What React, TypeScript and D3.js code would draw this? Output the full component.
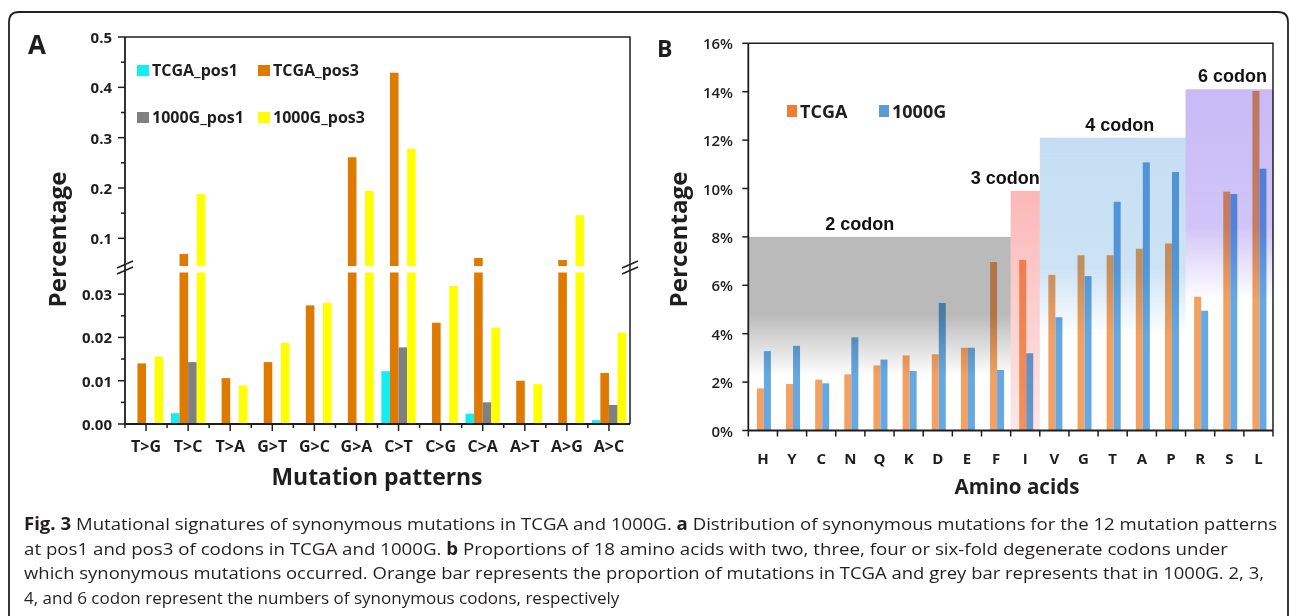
import * as d3 from 'd3';
import React from 'react';

// ---- panel A: synonymous mutation patterns ----
const patterns = ['T>G', 'T>C', 'T>A', 'G>T', 'G>C', 'G>A', 'C>T', 'C>G', 'C>A', 'A>T', 'A>G', 'A>C'];
const seriesA = ['TCGA_pos1', 'TCGA_pos3', '1000G_pos1', '1000G_pos3'];
const colorsA = ['#14eef2', '#df7a00', '#808080', '#ffff00'];
const tcgaPos1 = [0, 0.0025, 0, 0, 0, 0, 0.0122, 0, 0.0024, 0, 0, 0.0009];
const tcgaPos3 = [0.014, 0.069, 0.0106, 0.0143, 0.0274, 0.261, 0.429, 0.0234, 0.061, 0.01, 0.057, 0.0118];
const g1000Pos1 = [0, 0.0143, 0, 0, 0, 0, 0.0177, 0, 0.005, 0, 0, 0.0044];
const g1000Pos3 = [0.0156, 0.188, 0.0089, 0.0187, 0.028, 0.194, 0.278, 0.0319, 0.0223, 0.0092, 0.146, 0.0211];
const valuesA = [tcgaPos1, tcgaPos3, g1000Pos1, g1000Pos3];
const ticksHigh = [0.1, 0.2, 0.3, 0.4, 0.5];
const minorHigh = [0.15, 0.25, 0.35, 0.45];
const ticksLow = [0, 0.01, 0.02, 0.03];
const minorLow = [0.005, 0.015, 0.025];

// ---- panel B: amino acids ----
const aminoAcids = ['H', 'Y', 'C', 'N', 'Q', 'K', 'D', 'E', 'F', 'I', 'V', 'G', 'T', 'A', 'P', 'R', 'S', 'L'];
const tcga = [1.74, 1.92, 2.1, 2.32, 2.69, 3.1, 3.15, 3.42, 6.96, 7.05, 6.43, 7.24, 7.24, 7.51, 7.73, 5.53, 9.87, 14.03];
const g1000 = [3.28, 3.5, 1.95, 3.85, 2.93, 2.46, 5.27, 3.42, 2.5, 3.19, 4.68, 6.38, 9.45, 11.08, 10.68, 4.95, 9.77, 10.82];
const seriesB = ['TCGA', '1000G'];
const colorsB = ['#f3a162', '#66a8e2'];
const ticksB = [0, 2, 4, 6, 8, 10, 12, 14, 16];
const codonLabels = ['2 codon', '3 codon', '4 codon', '6 codon'];
const codonFirst = ['H', 'I', 'V', 'R'];
const codonLast = ['F', 'I', 'P', 'L'];
const codonTop = [8, 9.9, 12.1, 14.1];
const codonColors = ['#bababa', '#fbb8b8', '#c4def3', '#c8baf6'];

const caption = [
  [['Fig. 3', true], [' Mutational signatures of synonymous mutations in TCGA and 1000G. ', false], ['a', true], [' Distribution of synonymous mutations for the 12 mutation patterns', false]],
  [['at pos1 and pos3 of codons in TCGA and 1000G. ', false], ['b', true], [' Proportions of 18 amino acids with two, three, four or six-fold degenerate codons under', false]],
  [['which synonymous mutations occurred. Orange bar represents the proportion of mutations in TCGA and grey bar represents that in 1000G. 2, 3,', false]],
  [['4, and 6 codon represent the numbers of synonymous codons, respectively', false]],
];
const captionEnds = [1277, 1228, 1264, 0];

const font = '"Open Sans", sans-serif';
const ink = '#1e1e1e';

function PanelA() {
  const left = 125, right = 630, top = 37, bottom = 424;
  const x = d3.scaleBand().domain(patterns).range([left, right]);
  const xs = d3.scaleBand().domain(seriesA).range([0, x.bandwidth()]).paddingOuter(0.45);
  const yLow = d3.scaleLinear().domain([0, 0.035]).range([bottom, 272.5]);
  const yHigh = d3.scaleLinear().domain([0.045, 0.5]).range([266, top]);
  const fmt = d3.format('.1f');
  const fmtLow = d3.format('.2f');

  const bars: any[] = [];
  valuesA.forEach((vals, si) => {
    vals.forEach((v, i) => {
      if (v <= 0) return;
      const bx = (x(patterns[i]) as number) + (xs(seriesA[si]) as number);
      const lowTop = yLow(Math.min(v, 0.035));
      bars.push(<rect key={`l${si}-${i}`} x={bx} y={lowTop} width={xs.bandwidth()} height={bottom - lowTop} fill={colorsA[si]} />);
      if (v > 0.045) {
        bars.push(<rect key={`h${si}-${i}`} x={bx} y={yHigh(v)} width={xs.bandwidth()} height={yHigh(0.045) - yHigh(v)} fill={colorsA[si]} />);
      }
    });
  });

  const breakMark = (cx: number) => (
    <g stroke={ink} strokeWidth={1.5}>
      <line x1={cx - 8} y1={268} x2={cx + 8} y2={261} />
      <line x1={cx - 8} y1={274} x2={cx + 8} y2={267} />
    </g>
  );

  return (
    <g fontFamily={font} fill={ink}>
      <text x={28} y={54} fontSize={26} fontWeight={700}>A</text>
      {bars}
      {/* frame */}
      <path d={`M${left},${top}H${right}V${bottom}`} fill="none" stroke={ink} strokeWidth={1.5} />
      <line x1={left} y1={top} x2={left} y2={bottom} stroke={ink} strokeWidth={1.8} />
      <line x1={left} y1={bottom} x2={right} y2={bottom} stroke={ink} strokeWidth={1.8} />
      {breakMark(left)}
      {breakMark(right)}
      {/* y ticks */}
      {ticksHigh.map(t => (
        <g key={`th${t}`}>
          <line x1={left - 7} x2={left} y1={yHigh(t)} y2={yHigh(t)} stroke={ink} strokeWidth={1.5} />
          <text x={112} y={yHigh(t)} textAnchor="end" dominantBaseline="central" fontSize={15} fontWeight={700}>{fmt(t)}</text>
        </g>
      ))}
      {minorHigh.map(t => (
        <line key={`mh${t}`} x1={left - 4} x2={left} y1={yHigh(t)} y2={yHigh(t)} stroke={ink} strokeWidth={1.5} />
      ))}
      {ticksLow.map(t => (
        <g key={`tl${t}`}>
          <line x1={left - 7} x2={left} y1={yLow(t)} y2={yLow(t)} stroke={ink} strokeWidth={1.5} />
          <text x={112} y={yLow(t)} textAnchor="end" dominantBaseline="central" fontSize={15} fontWeight={700}>{fmtLow(t)}</text>
        </g>
      ))}
      {minorLow.map(t => (
        <line key={`ml${t}`} x1={left - 4} x2={left} y1={yLow(t)} y2={yLow(t)} stroke={ink} strokeWidth={1.5} />
      ))}
      {/* x ticks */}
      {patterns.map(p => {
        const cx = (x(p) as number) + x.bandwidth() / 2;
        return (
          <g key={p}>
            <line x1={cx} x2={cx} y1={bottom} y2={bottom + 7} stroke={ink} strokeWidth={1.5} />
            <line x1={x(p) as number} x2={x(p) as number} y1={bottom} y2={bottom + 4} stroke={ink} strokeWidth={1.5} />
            <text x={cx} y={452} textAnchor="middle" fontSize={16} fontWeight={700}>{p}</text>
          </g>
        );
      })}
      <text x={377} y={485} textAnchor="middle" fontSize={24} fontWeight={700} textLength={211} lengthAdjust="spacingAndGlyphs">Mutation patterns</text>
      <text transform="translate(66,239.5) rotate(-90)" textAnchor="middle" fontSize={24} fontWeight={700} textLength={136} lengthAdjust="spacingAndGlyphs">Percentage</text>
      {/* legend */}
      {seriesA.map((s, i) => {
        const lx = i % 2 === 0 ? 137 : 258;
        const ly = i < 2 ? 65 : 112;
        return (
          <g key={s}>
            <rect x={lx} y={ly} width={12} height={11} fill={colorsA[i]} />
            <text x={lx + 15} y={ly + 11} fontSize={16} fontWeight={700}>{s}</text>
          </g>
        );
      })}
    </g>
  );
}

function PanelB() {
  const left = 748.3, right = 1273, top = 43.3, bottom = 430.5;
  const x = d3.scaleBand().domain(aminoAcids).range([left, right]);
  const xs = d3.scaleBand().domain(seriesB).range([0, x.bandwidth()]).paddingOuter(1.08);
  const y = d3.scaleLinear().domain([0, 16]).range([bottom, top]);
  const vals = [tcga, g1000];
  const anchors = ['start', 'end', 'middle', 'end'];

  return (
    <g fontFamily={font} fill={ink}>
      <text x={657} y={57} fontSize={23} fontWeight={700}>B</text>
      <defs>
        {codonColors.map((c, i) => {
          const stops = [
            [[0, 1], [0.4, 1], [0.72, 0]],
            [[0, 1], [1, 0.35]],
            [[0, 1], [0.45, 0.85], [0.68, 0]],
            [[0, 1], [0.4, 0.85], [0.62, 0]],
          ][i];
          return (
            <linearGradient key={c} id={`cg${i}`} x1="0" y1="0" x2="0" y2="1">
              {stops.map(([o, a]) => <stop key={o} offset={o} stopColor={c} stopOpacity={a} />)}
            </linearGradient>
          );
        })}
      </defs>
      {vals.map((vs, si) => vs.map((v, i) => (
        <rect key={`b${si}-${i}`} x={(x(aminoAcids[i]) as number) + (xs(seriesB[si]) as number) + 1} y={y(v)}
          width={xs.bandwidth()} height={bottom - y(v)} fill={colorsB[si]} />
      )))}
      {/* codon group shading, multiplied over the bars */}
      {codonLabels.map((lab, i) => {
        const x0 = x(codonFirst[i]) as number;
        const x1 = (x(codonLast[i]) as number) + x.bandwidth();
        const yt = y(codonTop[i]);
        const tx = anchors[i] === 'start' ? x0 + 77 : anchors[i] === 'end' ? x1 - (i === 3 ? 6 : 0) : (x0 + x1) / 2 + 7;
        return (
          <g key={lab}>
            <rect x={x0} y={yt} width={x1 - x0} height={bottom - yt} fill={`url(#cg${i})`} style={{ mixBlendMode: 'multiply' }} />
            <text x={tx} y={yt - 7} textAnchor={anchors[i]} fontFamily='"Liberation Sans", Arial, sans-serif' fontSize={18} fontWeight={700} fill="#111">{lab}</text>
          </g>
        );
      })}
      <path d={`M${left},${top}H${right}V${bottom}`} fill="none" stroke={ink} strokeWidth={1.5} />
      <line x1={left} y1={top} x2={left} y2={bottom} stroke={ink} strokeWidth={1.8} />
      <line x1={left} y1={bottom} x2={right} y2={bottom} stroke={ink} strokeWidth={1.8} />
      {ticksB.map(t => (
        <g key={t}>
          <line x1={left - 6} x2={left} y1={y(t)} y2={y(t)} stroke={ink} strokeWidth={1.5} />
          <text x={733} y={y(t)} textAnchor="end" dominantBaseline="central" fontSize={15} fontWeight={600}>{`${t}%`}</text>
        </g>
      ))}
      {aminoAcids.map(a => (
        <g key={a}>
          <line x1={x(a) as number} x2={x(a) as number} y1={bottom} y2={bottom + 6} stroke={ink} strokeWidth={1.5} />
          <text x={(x(a) as number) + x.bandwidth() / 2} y={464} textAnchor="middle" fontSize={15} fontWeight={700}>{a}</text>
        </g>
      ))}
      <line x1={right} x2={right} y1={bottom} y2={bottom + 6} stroke={ink} strokeWidth={1.5} />
      <text x={1017} y={494} textAnchor="middle" fontSize={21} fontWeight={700} textLength={125} lengthAdjust="spacingAndGlyphs">Amino acids</text>
      <text transform="translate(687,239.5) rotate(-90)" textAnchor="middle" fontSize={24} fontWeight={700} textLength={136} lengthAdjust="spacingAndGlyphs">Percentage</text>
      {seriesB.map((s, i) => (
        <g key={s}>
          <rect x={787 + i * 92} y={105} width={10} height={12} fill={i === 0 ? '#ee7d31' : '#5b9bd5'} />
          <text x={800 + i * 92} y={118} fontSize={18} fontWeight={700}>{s}</text>
        </g>
      ))}
    </g>
  );
}

export default function App() {
  return (
    <svg width={1290} height={616} style={{ position: 'absolute', left: 0, top: 0 }}>
      <rect width={1290} height={616} fill="#ffffff" />
      <path d="M9,616V22Q9,12 19,12H1278Q1288,12 1288,22V616" fill="none" stroke="#222" strokeWidth={1.8} />
      <PanelA />
      <PanelB />
      <g fontFamily={font} fontSize={17} fill="#231f20" style={{ whiteSpace: 'pre' }}>
        {caption.map((line, li) => (
          <text key={li} x={24} y={530 + li * 24.7}
            {...(captionEnds[li] ? { textLength: captionEnds[li] - 24, lengthAdjust: 'spacingAndGlyphs' } : {})}>
            {line.map(([t, b], k) => <tspan key={k} fontWeight={b ? 700 : 400}>{t as string}</tspan>)}
          </text>
        ))}
      </g>
    </svg>
  );
}
